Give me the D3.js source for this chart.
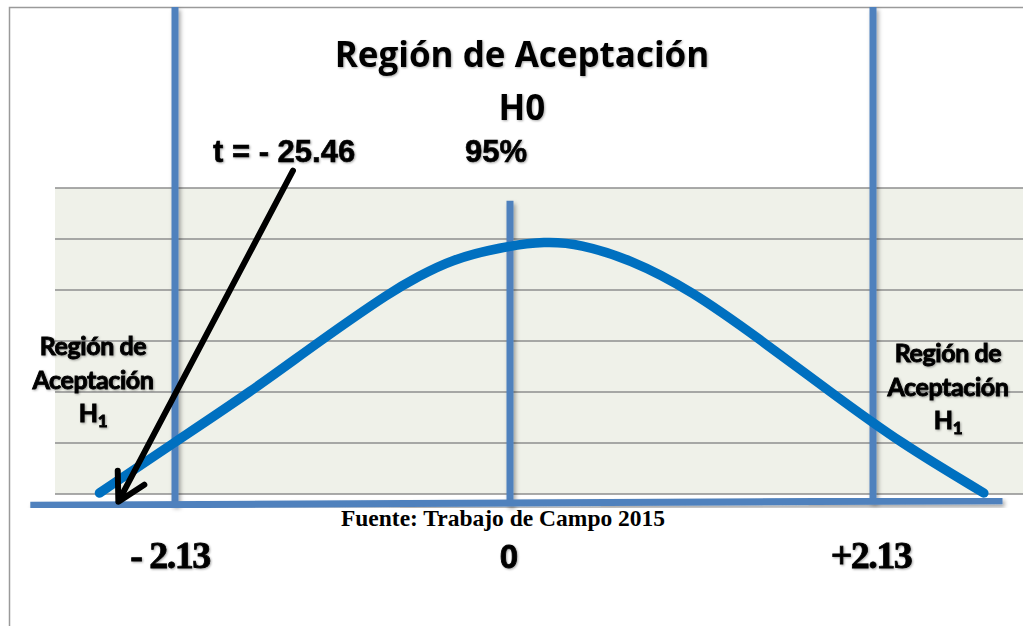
<!DOCTYPE html>
<html>
<head>
<meta charset="utf-8">
<script src="https://cdn.jsdelivr.net/npm/d3@7"></script>
<style>
  html, body { margin: 0; padding: 0; background: #fff; }
  svg { display: block; }
</style>
</head>
<body>
<svg id="chart" width="1023" height="626"></svg>
<script>
// ---------- data ----------
const critT = [-2.13, 0, 2.13];
const tickLabels = ["- 2.13", "0", "+2.13"];
const gridLevels = [0, 1, 2, 3, 4, 5, 6];
// curve (t value, height in grid units)
const curveT = [-2.61, -2.14, -1.65, -1.21, -0.74, -0.59, -0.38, -0.06, 0.21, 0.41, 0.70, 1.06, 1.48, 1.88, 2.29, 2.78];
const curveY = [0.02, 1.00, 2.00, 3.00, 4.00, 4.25, 4.59, 4.84, 4.96, 4.90, 4.61, 4.00, 3.00, 2.00, 1.00, 0.02];
// vertical marker lines: t, top, bottom (grid units)
const markerT = [-2.13, 0, 2.13];
const markerTop = [9.55, 5.75, 9.55];
const markerBottom = [-0.22, -0.22, -0.16];
// horizontal axis line endpoints
const axisT = [-3.05, 2.89];
const axisY = [-0.22, -0.13];
// arrow from the t statistic label to the tail
const arrowT = [-1.38, -2.49];
const arrowY = [6.34, -0.15];
const titleLines = ["Región de Aceptación", "H0"];
const tLabel = "t = - 25.46";
const confLabel = "95%";
const sideLines = ["Región de", "Aceptación", "H"];
const sourceLabel = "Fuente: Trabajo de Campo 2015";

// ---------- scales ----------
const x = d3.scaleLinear().domain(critT).range([175, 510, 873]);
const y = d3.scaleLinear().domain([0, 6]).range([494, 188]);

const svg = d3.select("#chart");
const defs = svg.append("defs");
const sh = defs.append("filter").attr("id", "shadow")
  .attr("x", "-50%").attr("y", "-50%").attr("width", "200%").attr("height", "200%");
sh.append("feDropShadow").attr("dx", 2).attr("dy", 3).attr("stdDeviation", 2)
  .attr("flood-color", "#000").attr("flood-opacity", 0.35);
const tsh = defs.append("filter").attr("id", "tshadow")
  .attr("x", "-20%").attr("y", "-20%").attr("width", "140%").attr("height", "140%");
tsh.append("feDropShadow").attr("dx", 1).attr("dy", 1).attr("stdDeviation", 1)
  .attr("flood-color", "#000").attr("flood-opacity", 0.35);

// outer frame
svg.append("path")
  .attr("d", "M9.5,640 L9.5,7.5 L1030,7.5")
  .attr("fill", "none").attr("stroke", "#9a9a9a").attr("stroke-width", 1.5);

// plot area
svg.append("rect")
  .attr("x", 55).attr("y", y(6))
  .attr("width", 1023 - 55).attr("height", y(0) - y(6))
  .attr("fill", "#eff1e9");

svg.append("g").selectAll("line").data(gridLevels).join("line")
  .attr("x1", 55).attr("x2", 1023)
  .attr("y1", d => y(d)).attr("y2", d => y(d))
  .attr("stroke", "#8e8e8e").attr("stroke-width", 1.6);

// side labels
function sideLabel(cx, baseline) {
  const g = svg.append("g").attr("filter", "url(#tshadow)");
  const lh = 33.5;
  sideLines.forEach((s, i) => {
    const t = g.append("text")
      .attr("x", cx).attr("y", baseline + i * lh)
      .attr("text-anchor", "middle")
      .attr("font-family", "Lato, 'Open Sans', sans-serif")
      .attr("font-weight", 700).attr("font-size", 25)
      .attr("letter-spacing", -0.4)
      .attr("fill", "#000").attr("stroke", "#000").attr("stroke-width", 0.9);
    if (i === 2) {
      t.text(s);
      t.append("tspan").attr("dy", 5).attr("font-size", 17).text("1");
    } else t.text(s);
  });
}
sideLabel(93, 355);
sideLabel(948, 362);

// vertical marker lines
svg.append("g").attr("filter", "url(#shadow)").selectAll("line").data(markerT).join("line")
  .attr("x1", d => x(d)).attr("x2", d => x(d))
  .attr("y1", (d, i) => y(markerTop[i])).attr("y2", (d, i) => y(markerBottom[i]))
  .attr("stroke", "#4f81bd").attr("stroke-width", 7);

// horizontal axis line
svg.append("line")
  .attr("filter", "url(#shadow)")
  .attr("x1", x(axisT[0])).attr("y1", y(axisY[0]))
  .attr("x2", x(axisT[1])).attr("y2", y(axisY[1]))
  .attr("stroke", "#4f81bd").attr("stroke-width", 7);

// curve
const pts = curveT.map((t, i) => [t, curveY[i]]);
svg.append("path")
  .datum(pts)
  .attr("d", d3.line().x(d => x(d[0])).y(d => y(d[1])).curve(d3.curveBasis))
  .attr("fill", "none").attr("stroke", "#0070c0").attr("stroke-width", 9.5)
  .attr("stroke-linecap", "round");

// arrow
const ax0 = x(arrowT[0]), ay0 = y(arrowY[0]), ax1 = x(arrowT[1]), ay1 = y(arrowY[1]);
const ang = Math.atan2(ay0 - ay1, ax0 - ax1);
const armLen = 31, spread = 29 * Math.PI / 180;
const arm = s => [ax1 + armLen * Math.cos(ang + s), ay1 + armLen * Math.sin(ang + s)];
const a1 = arm(-spread), a2 = arm(spread);
svg.append("path")
  .attr("d", `M${ax0},${ay0} L${ax1},${ay1} M${a1[0]},${a1[1]} L${ax1},${ay1} L${a2[0]},${a2[1]}`)
  .attr("fill", "none").attr("stroke", "#000").attr("stroke-width", 6)
  .attr("stroke-linecap", "round").attr("stroke-linejoin", "round");

// title
svg.append("g").attr("filter", "url(#tshadow)").selectAll("text").data(titleLines).join("text")
  .attr("x", 522).attr("y", (d, i) => 67 + i * 53)
  .attr("text-anchor", "middle")
  .attr("font-family", "'Open Sans', Lato, sans-serif")
  .attr("font-weight", 700).attr("font-size", 35)
  .attr("fill", "#000").text(d => d);

// t label and 95%
const topLab = svg.append("g").attr("filter", "url(#tshadow)")
  .attr("font-family", "'Liberation Sans', Arial, sans-serif")
  .attr("font-weight", 700).attr("font-size", 31).attr("fill", "#000")
  .attr("stroke", "#000").attr("stroke-width", 0.6);
topLab.append("text").attr("x", 213).attr("y", 162).attr("letter-spacing", 0).text(tLabel);
topLab.append("text").attr("x", 465).attr("y", 162).attr("letter-spacing", 0).text(confLabel);

// source
svg.append("text")
  .attr("x", 503).attr("y", 526)
  .attr("text-anchor", "middle")
  .attr("font-family", "'Liberation Serif', 'Times New Roman', serif")
  .attr("font-weight", 700).attr("font-size", 23.5)
  .attr("fill", "#000").text(sourceLabel);

// tick labels
const tickOffsets = [-5, -1, -2];
svg.append("g").attr("filter", "url(#tshadow)").selectAll("text").data(critT).join("text")
  .attr("x", (d, i) => x(d) + tickOffsets[i])
  .attr("y", 568)
  .attr("text-anchor", "middle")
  .attr("font-family", (d, i) => i === 1 ? "'Liberation Sans', Arial, sans-serif" : "'Liberation Serif', 'Times New Roman', serif")
  .attr("font-weight", 700)
  .attr("font-size", (d, i) => i === 1 ? 33 : 38)
  .attr("letter-spacing", (d, i) => i === 1 ? 0 : -1.5)
  .attr("fill", "#000").attr("stroke", "#000").attr("stroke-width", 0.8)
  .text((d, i) => tickLabels[i]);
</script>
</body>
</html>
